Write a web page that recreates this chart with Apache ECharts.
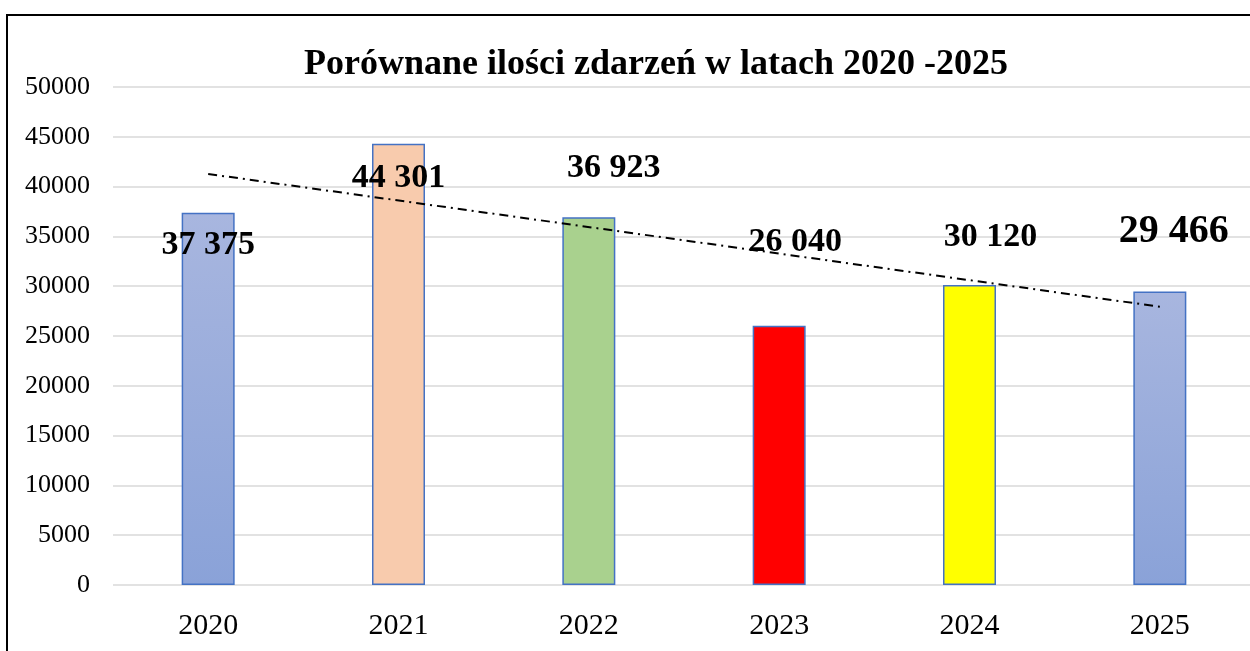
<!DOCTYPE html>
<html>
<head>
<meta charset="utf-8">
<script src="https://cdn.jsdelivr.net/npm/echarts@6/dist/echarts.min.js"></script>
<style>
  html, body { margin: 0; padding: 0; background: #fff; overflow: hidden; }
  #chart { width: 1256px; height: 651px; }
</style>
</head>
<body>
<div id="chart"></div>
<script>
const years = ['2020', '2021', '2022', '2023', '2024', '2025'];
const counts = [37375, 44301, 36923, 26040, 30120, 29466];
// trend line (ends only)
const trend = [41270, null, null, null, null, 27940];
const yTicks = [0, 5000, 10000, 15000, 20000, 25000, 30000, 35000, 40000, 45000, 50000];

const blueGrad = new echarts.graphic.LinearGradient(0, 0, 0, 1, [
    { offset: 0, color: '#a8b6df' },
    { offset: 1, color: '#8aa2d8' }
]);
const barColors = [blueGrad, '#f8cbad', '#a9d18e', '#ff0000', '#ffff00', blueGrad];
const labelOffsets = [[0, 49], [0, 51], [25, -32], [16, -66], [21, -31], [14, -40]];
const labelSizes = [34, 34, 34, 34, 34, 40];

const fmt = function (v) {
    return String(v).replace(/\B(?=(\d{3})+(?!\d))/g, ' ');
};

const chart = echarts.init(document.getElementById('chart'));

const barData = counts.map(function (v, i) {
    return {
        value: v,
        itemStyle: { color: barColors[i] },
        label: {
            offset: labelOffsets[i],
            fontSize: labelSizes[i],
            lineHeight: labelSizes[i]
        }
    };
});

chart.setOption({
    animation: false,
    title: {
        text: 'Porównane ilości zdarzeń w latach 2020 -2025',
        left: 651,
        textAlign: 'center',
        top: 42,
        textStyle: {
            fontFamily: 'Liberation Serif',
            fontWeight: 'bold',
            fontSize: 36,
            color: '#000'
        }
    },
    graphic: [{
        type: 'rect',
        shape: { x: 7, y: 15, width: 1300, height: 700 },
        style: { fill: 'none', stroke: '#000', lineWidth: 2 },
        silent: true
    }],
    grid: {
        left: 113,
        right: 1,
        top: 87,
        bottom: 66
    },
    xAxis: {
        type: 'category',
        data: years,
        axisLine: { show: false },
        axisTick: { show: false },
        axisLabel: {
            margin: 26,
            fontFamily: 'Liberation Serif',
            fontSize: 30,
            color: '#000'
        }
    },
    yAxis: {
        type: 'value',
        min: 0,
        max: 50000,
        interval: 5000,
        axisLine: { show: false },
        axisTick: { show: false },
        splitLine: { lineStyle: { color: '#d9d9d9', width: 1.5 } },
        axisLabel: {
            margin: 23,
            fontFamily: 'Liberation Serif',
            fontSize: 26,
            color: '#000',
            formatter: function (v) {
                return yTicks.indexOf(v) >= 0 ? String(v) : '';
            }
        }
    },
    series: [{
        type: 'bar',
        data: barData,
        barWidth: 53,
        itemStyle: { borderColor: '#4472c4', borderWidth: 1.5 },
        label: {
            show: true,
            position: 'top',
            distance: 0,
            fontFamily: 'Liberation Serif',
            fontWeight: 'bold',
            color: '#000',
            formatter: function (p) {
                return fmt(p.value);
            }
        },
        z: 2
    }, {
        type: 'line',
        data: trend,
        connectNulls: true,
        symbol: 'none',
        lineStyle: { color: '#000', width: 2, type: [9, 5, 2, 5] },
        z: 3
    }]
});
</script>
</body>
</html>
